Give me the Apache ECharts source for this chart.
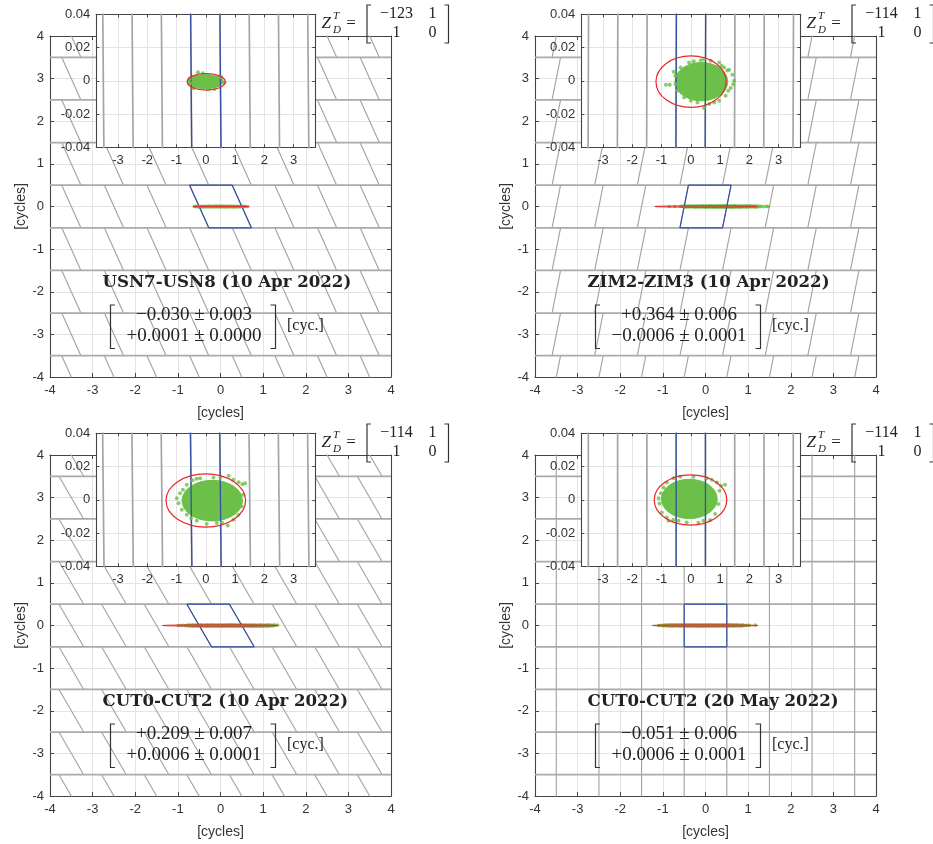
<!DOCTYPE html>
<html><head><meta charset="utf-8">
<script src="https://cdn.jsdelivr.net/npm/echarts@6/dist/echarts.min.js"></script>
<style>html,body{margin:0;padding:0;background:#fff}#c{width:933px;height:844px}</style>
</head><body><div id="c"></div>
<script>
// ---------------- data ----------------
const panelTitles = ['USN7-USN8 (10 Apr 2022)', 'ZIM2-ZIM3 (10 Apr 2022)', 'CUT0-CUT2 (10 Apr 2022)', 'CUT0-CUT2 (20 May 2022)'];
const estimateRow1 = ['\u22120.030 \u00b1 0.003', '+0.364 \u00b1 0.006', '+0.209 \u00b1 0.007', '\u22120.051 \u00b1 0.006'];
const estimateRow2 = ['+0.0001 \u00b1 0.0000', '\u22120.0006 \u00b1 0.0001', '+0.0006 \u00b1 0.0001', '+0.0006 \u00b1 0.0001'];
const zFirstEntry = ['\u2212123', '\u2212114', '\u2212114', '\u2212114'];
const zOtherEntries = ['1', '1', '0'];
// shear (dx/dy) of the pull-in region sides
const shear = [-0.45, 0.20, -0.58, 0.0];
// confidence ellipse: cx, cy, rx, ry
const redEllipse = [
  [0.013, -0.0006, 0.65, 0.005],
  [0.01, -0.0005, 1.20, 0.0155],
  [0.0, -0.0004, 1.36, 0.016],
  [-0.01, -0.0001, 1.24, 0.0151]
];
// dense core of the sample cloud: cx, cy, rx, ry
const greenCore = [
  [-0.01, -0.0005, 0.61, 0.0043],
  [0.36, -0.0005, 0.90, 0.0115],
  [0.22, -0.0005, 1.03, 0.0122],
  [-0.05, 0.0005, 0.95, 0.0118]
];
const samplesUSN = [[-0.27,0.0052],[-0.42,-0.0045],[0.30,-0.0049],[0.52,0.0022],[-0.55,0.0012],[0.64,-0.001],[-0.52,-0.0014],[0.1,-0.0050],[-0.1,0.0046]];
const samplesZIM = [[-0.85,-0.0024],[-0.72,-0.0024],[-0.59,0.0054],[-0.53,0.003],[-0.52,-0.002],[-0.45,-0.006],[-0.23,-0.010],[-0.06,0.011],[0.1,0.0118],[0.34,0.0124],[0.45,0.0128],[0.68,0.012],[0.97,0.011],[1.14,0.008],[1.25,0.0062],[1.31,0.0066],[1.42,0.0036],[1.48,0.0],[1.45,-0.002],[1.36,-0.0044],[1.28,-0.006],[1.19,-0.009],[0.97,-0.012],[0.8,-0.013],[0.63,-0.014],[0.45,-0.0164],[0.23,-0.013],[0.0,-0.012],[-0.35,0.008],[1.05,0.009]];
const samplesCUTApr = [[-0.99,0.001],[-0.93,-0.002],[-0.88,0.004],[-0.78,0.006],[-0.65,0.009],[-0.45,0.0118],[-0.31,0.0126],[-0.19,0.013],[0.26,0.0134],[0.5,0.0136],[0.78,0.0144],[0.94,0.012],[1.12,0.0105],[1.34,0.010],[1.25,0.0094],[1.28,0.003],[1.23,-0.004],[1.11,-0.009],[0.94,-0.012],[0.75,-0.0154],[0.55,-0.0136],[0.375,-0.014],[0.03,-0.0146],[-0.31,-0.0126],[-0.5,-0.011],[-0.65,-0.009],[-0.82,-0.006]];
const samplesCUTMay = [[-1.10,0.001],[-1.07,-0.0022],[-0.99,-0.0076],[-0.82,-0.0106],[-0.76,-0.0126],[-0.6,-0.012],[-0.42,-0.0126],[-0.14,-0.0136],[0.26,-0.0138],[0.43,-0.0126],[0.66,-0.0122],[0.83,-0.0086],[0.94,-0.0026],[0.98,0.0054],[1.03,0.0084],[1.17,0.009],[0.89,0.0104],[0.72,0.012],[0.55,0.013],[0.09,0.0138],[-0.36,0.0138],[-0.59,0.013],[-0.82,0.0104],[-0.93,0.0074],[-1.02,0.004]];
const samples = [samplesUSN, samplesZIM, samplesCUTApr, samplesCUTMay];
const mainTicks = [-4, -3, -2, -1, 0, 1, 2, 3, 4];
const insetXTicks = [-3, -2, -1, 0, 1, 2, 3];
const insetYTicks = [-0.04, -0.02, 0, 0.02, 0.04];

// ---------------- layout / style ----------------
const offX = [0, 485, 0, 485];
const offY = [0, 0, 419, 419];
const GREEN = '#6cbf48', RED = '#e8262b', BLUE = '#3350a3', LAT = '#a4a4a4';
const AXC = '#444', TXT = '#333';
const SANS = 'Liberation Sans', SERIF = 'Liberation Serif';

function latticeSkew(s) {
  const pts = [];
  for (let b = -4; b <= 4; b++) {
    for (let a = -7; a <= 6; a++) {
      pts.push([a + 0.5 - 0.5 * s, b - 0.5], [a + 0.5 + 0.5 * s, b + 0.5], ['-', '-']);
    }
  }
  return pts;
}
function latticeStrips() {
  const pts = [];
  for (let b = -4; b <= 3; b++) pts.push([mainTicks[0], b + 0.5], [mainTicks[mainTicks.length - 1], b + 0.5], ['-', '-']);
  return pts;
}
function pullIn(s) {
  return [[-0.5 + 0.5 * s, 0.5], [0.5 + 0.5 * s, 0.5], [0.5 - 0.5 * s, -0.5], [-0.5 - 0.5 * s, -0.5], [-0.5 + 0.5 * s, 0.5]];
}
function ellipseSeries(par, ai, style, z) {
  return {
    type: 'custom', xAxisIndex: ai, yAxisIndex: ai, z: z, silent: true, data: [par],
    renderItem: function (p, api) {
      const c = api.coord([api.value(0), api.value(1)]);
      const sz = api.size([api.value(2), api.value(3)]);
      return { type: 'ellipse', shape: { cx: c[0], cy: c[1], rx: sz[0], ry: sz[1] }, style: style };
    }
  };
}

const grids = [], xAxes = [], yAxes = [], series = [], graphics = [];
const lblStyle = { fontFamily: SANS, fontSize: 13, color: TXT };
for (let p = 0; p < 4; p++) {
  const ox = offX[p], oy = offY[p];
  const gm = grids.length;
  grids.push({ left: 50 + ox, top: 36 + oy, width: 341, height: 341, show: false });
  grids.push({ left: 96.3 + ox, top: 14.3 + oy, width: 219, height: 133, show: true, backgroundColor: '#fff', borderWidth: 0, z: 5 });
  const gi = gm + 1;
  const base = xAxes.length;
  const tickMain = { show: true, inside: true, length: 4, lineStyle: { color: AXC } };
  const lineMain = { show: true, onZero: false, lineStyle: { color: AXC, width: 1.1 } };
  // main x
  xAxes.push({ gridIndex: gm, type: 'value', min: -4, max: 4, interval: 1, position: 'bottom', axisLine: lineMain, axisTick: tickMain,
    axisLabel: Object.assign({ margin: 7 }, lblStyle), splitLine: { show: true, lineStyle: { color: '#e4e4e4' } },
    name: '[cycles]', nameLocation: 'middle', nameGap: 29, nameTextStyle: { fontFamily: SANS, fontSize: 14, color: TXT } });
  xAxes.push({ gridIndex: gm, type: 'value', min: -4, max: 4, interval: 1, position: 'top', axisLine: lineMain, axisTick: tickMain, axisLabel: { show: false }, splitLine: { show: false } });
  // inset x
  const tickIn = { show: true, inside: true, length: 3, lineStyle: { color: AXC }, customValues: insetXTicks };
  xAxes.push({ gridIndex: gi, type: 'value', min: -3.74, max: 3.74, position: 'bottom', z: 6, axisLine: lineMain, axisTick: tickIn,
    axisLabel: Object.assign({ margin: 7, customValues: insetXTicks }, lblStyle), splitLine: { show: true, lineStyle: { color: '#e4e4e4' } } });
  xAxes.push({ gridIndex: gi, type: 'value', min: -3.74, max: 3.74, position: 'top', z: 6, axisLine: lineMain, axisTick: tickIn, axisLabel: { show: false, customValues: insetXTicks }, splitLine: { show: false } });
  // main y
  yAxes.push({ gridIndex: gm, type: 'value', min: -4, max: 4, interval: 1, position: 'left', axisLine: lineMain, axisTick: tickMain,
    axisLabel: Object.assign({ margin: 6 }, lblStyle), splitLine: { show: true, lineStyle: { color: '#e4e4e4' } },
    name: '[cycles]', nameLocation: 'middle', nameGap: 22, nameTextStyle: { fontFamily: SANS, fontSize: 14, color: TXT } });
  yAxes.push({ gridIndex: gm, type: 'value', min: -4, max: 4, interval: 1, position: 'right', axisLine: lineMain, axisTick: tickMain, axisLabel: { show: false }, splitLine: { show: false } });
  // inset y
  const tickInY = { show: true, inside: true, length: 3, lineStyle: { color: AXC } };
  yAxes.push({ gridIndex: gi, type: 'value', min: insetYTicks[0], max: insetYTicks[4], interval: 0.02, position: 'left', z: 6, axisLine: lineMain, axisTick: tickInY,
    axisLabel: Object.assign({ margin: 6 }, lblStyle), splitLine: { show: true, lineStyle: { color: '#e4e4e4' } } });
  yAxes.push({ gridIndex: gi, type: 'value', min: insetYTicks[0], max: insetYTicks[4], interval: 0.02, position: 'right', z: 6, axisLine: lineMain, axisTick: tickInY, axisLabel: { show: false }, splitLine: { show: false } });

  const am = base, ai = base + 2;
  const s = shear[p];
  // main plot
  series.push({ type: 'line', xAxisIndex: am, yAxisIndex: am, z: 2, silent: true, showSymbol: false, clip: true, data: latticeSkew(s), lineStyle: { color: LAT, width: 1.15 } });
  series.push({ type: 'line', xAxisIndex: am, yAxisIndex: am, z: 2, silent: true, showSymbol: false, clip: true, data: latticeStrips(), lineStyle: { color: '#aaaaaa', width: 1.8 } });
  series.push({ type: 'line', xAxisIndex: am, yAxisIndex: am, z: 3, silent: true, showSymbol: false, clip: true, data: pullIn(s), lineStyle: { color: BLUE, width: 1.2 } });
  series.push(ellipseSeries(greenCore[p], am, { fill: GREEN, stroke: GREEN, lineWidth: 3.5 }, 3));
  series.push({ type: 'scatter', xAxisIndex: am, yAxisIndex: am, z: 3, silent: true, symbolSize: 3.5, data: samples[p], itemStyle: { color: GREEN } });
  series.push(ellipseSeries(redEllipse[p], am, { fill: 'none', stroke: RED, lineWidth: 1 }, 4));
  // inset
  series.push({ type: 'line', xAxisIndex: ai, yAxisIndex: ai, z: 7, silent: true, showSymbol: false, clip: true, data: latticeSkew(s), lineStyle: { color: LAT, width: 1.7 } });
  series.push({ type: 'line', xAxisIndex: ai, yAxisIndex: ai, z: 8, silent: true, showSymbol: false, clip: true, data: pullIn(s), lineStyle: { color: BLUE, width: 1.3 } });
  series.push(ellipseSeries(greenCore[p], ai, { fill: GREEN, stroke: GREEN, lineWidth: 1 }, 8));
  series.push({ type: 'scatter', xAxisIndex: ai, yAxisIndex: ai, z: 8, silent: true, symbolSize: 4, data: samples[p], itemStyle: { color: GREEN } });
  series.push(ellipseSeries(redEllipse[p], ai, { fill: 'none', stroke: RED, lineWidth: 1.2 }, 9));

  // annotations
  const T = (x, y, text, font, align) => graphics.push({ type: 'text', x: x + ox, y: y + oy, z: 20, silent: true,
    style: { text: text, font: font, fill: '#222', align: align || 'left', verticalAlign: 'middle' } });
  const B = (pts) => graphics.push({ type: 'polyline', z: 20, silent: true, shape: { points: pts.map(q => [q[0] + ox, q[1] + oy]) }, style: { stroke: '#333', lineWidth: 1.2, fill: 'none' } });
  T(102.5, 283, panelTitles[p], 'bold 16.6px "DejaVu Serif"', 'left');
  T(194, 315, estimateRow1[p], '19px ' + SERIF, 'center');
  T(194, 336, estimateRow2[p], '19px ' + SERIF, 'center');
  B([[115, 305], [110.5, 305], [110.5, 348.5], [115, 348.5]]);
  B([[270.5, 305], [275.5, 305], [275.5, 348.5], [270.5, 348.5]]);
  T(287, 326, '[cyc.]', '16px ' + SERIF, 'left');
  // Z_D^T matrix
  T(321.5, 24, 'Z', 'italic 17px ' + SERIF, 'left');
  T(333, 16, 'T', 'italic 11px ' + SERIF, 'left');
  T(333, 30, 'D', 'italic 11px ' + SERIF, 'left');
  T(351, 24, '=', '17px ' + SERIF, 'center');
  B([[371, 5], [367, 5], [367, 43], [371, 43]]);
  B([[444.5, 5], [448.5, 5], [448.5, 43], [444.5, 43]]);
  T(396.5, 14, zFirstEntry[p], '16px ' + SERIF, 'center');
  T(432.5, 14, zOtherEntries[0], '16px ' + SERIF, 'center');
  T(396.5, 33, zOtherEntries[1], '16px ' + SERIF, 'center');
  T(432.5, 33, zOtherEntries[2], '16px ' + SERIF, 'center');
}

const chart = echarts.init(document.getElementById('c'), null, { renderer: 'canvas' });
chart.setOption({
  animation: false,
  backgroundColor: '#fff',
  grid: grids, xAxis: xAxes, yAxis: yAxes, series: series, graphic: graphics
});
</script></body></html>
